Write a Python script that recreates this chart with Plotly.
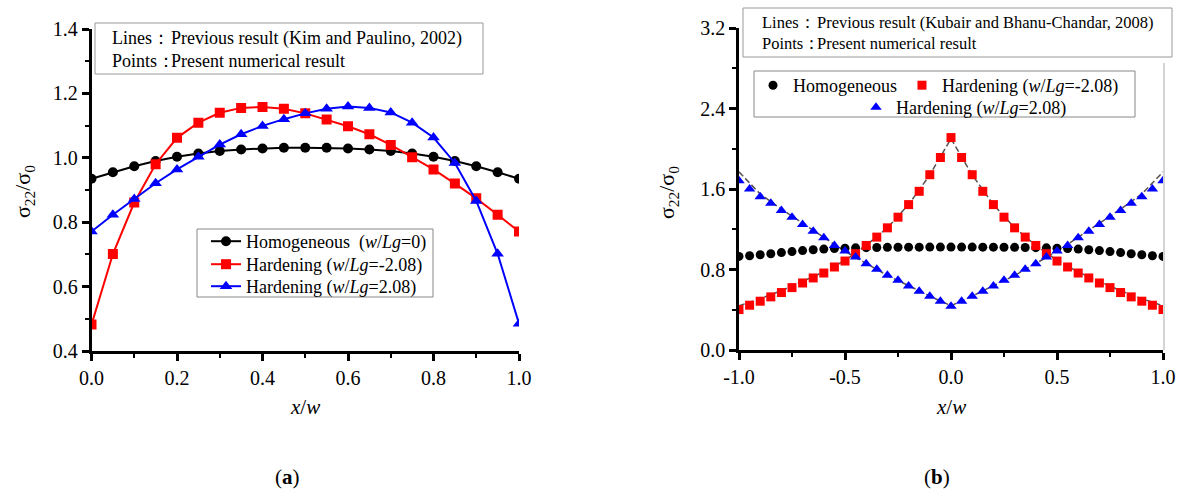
import plotly.graph_objects as go

W, H = 1183, 491
FONT = "Liberation Serif, Times New Roman, serif"

# ---- panel (a): stress ratio across the crack plane, x/w in [0, 1] ----
x_a = [0.00, 0.05, 0.10, 0.15, 0.20, 0.25, 0.30, 0.35, 0.40, 0.45, 0.50,
       0.55, 0.60, 0.65, 0.70, 0.75, 0.80, 0.85, 0.90, 0.95, 1.00]
homog_a = [0.935, 0.955, 0.974, 0.990, 1.003, 1.013, 1.021, 1.026, 1.029, 1.031, 1.031,
           1.031, 1.029, 1.026, 1.021, 1.013, 1.003, 0.990, 0.974, 0.955, 0.935]
hard_neg_a = [0.482, 0.701, 0.861, 0.980, 1.062, 1.109, 1.140, 1.155, 1.158, 1.152, 1.138,
              1.119, 1.098, 1.073, 1.040, 1.002, 0.964, 0.920, 0.874, 0.823, 0.771]
hard_pos_a = [0.771, 0.823, 0.872, 0.921, 0.964, 1.003, 1.041, 1.073, 1.099, 1.120, 1.138,
              1.152, 1.159, 1.155, 1.141, 1.109, 1.063, 0.984, 0.866, 0.702, 0.485]

# ---- panel (b): x/w in [-1, 1] ----
x_b = [-1.00, -0.95, -0.90, -0.85, -0.80, -0.75, -0.70, -0.65, -0.60, -0.55, -0.50,
       -0.45, -0.40, -0.35, -0.30, -0.25, -0.20, -0.15, -0.10, -0.05, 0.00,
       0.05, 0.10, 0.15, 0.20, 0.25, 0.30, 0.35, 0.40, 0.45, 0.50,
       0.55, 0.60, 0.65, 0.70, 0.75, 0.80, 0.85, 0.90, 0.95, 1.00]
homog_b = [0.930, 0.937, 0.947, 0.957, 0.968, 0.978, 0.988, 0.996, 1.003, 1.008, 1.012,
           1.015, 1.017, 1.019, 1.020, 1.021, 1.022, 1.022, 1.023, 1.023, 1.023,
           1.023, 1.023, 1.022, 1.022, 1.021, 1.020, 1.019, 1.017, 1.015, 1.012,
           1.008, 1.003, 0.996, 0.988, 0.978, 0.968, 0.957, 0.947, 0.937, 0.930]
hard_neg_b = [0.402, 0.445, 0.485, 0.528, 0.571, 0.620, 0.666, 0.716, 0.765, 0.825, 0.884,
              0.957, 1.039, 1.122, 1.214, 1.320, 1.445, 1.577, 1.742, 1.913, 2.111,
              1.913, 1.742, 1.577, 1.445, 1.320, 1.214, 1.122, 1.039, 0.957, 0.884,
              0.825, 0.765, 0.716, 0.666, 0.620, 0.571, 0.528, 0.485, 0.445, 0.402]
hard_pos_b = [1.682, 1.600, 1.524, 1.458, 1.386, 1.320, 1.247, 1.181, 1.115, 1.039, 0.983,
              0.924, 0.858, 0.802, 0.742, 0.693, 0.637, 0.584, 0.534, 0.485, 0.435,
              0.485, 0.534, 0.584, 0.637, 0.693, 0.742, 0.802, 0.858, 0.924, 0.983,
              1.039, 1.115, 1.181, 1.247, 1.320, 1.386, 1.458, 1.524, 1.600, 1.682]

# previous (Kubair and Bhanu-Chandar) curves
x_ref_b = [-1.0, -0.9, -0.8, -0.7, -0.6, -0.5, -0.4, -0.3, -0.2, -0.1, 0.0,
           0.1, 0.2, 0.3, 0.4, 0.5, 0.6, 0.7, 0.8, 0.9, 1.0]
ref_neg_b = [0.44, 0.51, 0.59, 0.68, 0.775, 0.89, 1.04, 1.215, 1.445, 1.74, 2.10,
             1.74, 1.445, 1.215, 1.04, 0.89, 0.775, 0.68, 0.59, 0.51, 0.44]
ref_pos_b = [1.77, 1.55, 1.40, 1.26, 1.12, 0.98, 0.86, 0.74, 0.64, 0.535, 0.44,
             0.535, 0.64, 0.74, 0.86, 0.98, 1.12, 1.26, 1.40, 1.55, 1.77]

xticks_b = [-1.0, -0.5, 0.0, 0.5, 1.0]
xticktext_b = ["-1.0", "-0.5", "0.0", "0.5", "1.0"]

names_a = ["Homogeneous\u00a0\u00a0(<i>w</i>/<i>Lg</i>=0)",
           "Hardening (<i>w</i>/<i>Lg</i>=-2.08)",
           "Hardening (<i>w</i>/<i>Lg</i>=2.08)"]
names_b = ["Homogeneous",
           "Hardening (<i>w</i>/<i>Lg</i>=-2.08)",
           "Hardening (<i>w</i>/<i>Lg</i>=2.08)"]


def px(x):
    return x / W


def py(y):
    return 1 - y / H


fig = go.Figure()

# panel (a) traces, one legend row each
for ys, col, sym, nm, lg in [(homog_a, "black", "circle", names_a[0], "legend"),
                             (hard_neg_a, "#ff0000", "square", names_a[1], "legend4"),
                             (hard_pos_a, "#0000ff", "triangle-up", names_a[2], "legend5")]:
    fig.add_trace(go.Scatter(
        x=x_a, y=ys, mode="lines+markers", name=nm,
        line=dict(color=col, width=2),
        marker=dict(color=col, symbol=sym, size=10 if sym != "triangle-up" else 11),
        xaxis="x", yaxis="y", legend=lg))

# panel (b) reference curves
for ys in (ref_neg_b, ref_pos_b):
    fig.add_trace(go.Scatter(
        x=x_ref_b, y=ys, mode="lines", showlegend=False,
        line=dict(color="#5a5050", width=1.5, dash="6px,3px"),
        xaxis="x2", yaxis="y2"))

# panel (b) points
for ys, col, sym, nm, lg, sz in [(homog_b, "black", "circle", names_b[0], "legend2", 9),
                                 (hard_neg_b, "#ff0000", "square", names_b[1], "legend2", 9),
                                 (hard_pos_b, "#0000ff", "triangle-up", names_b[2], "legend3", 10)]:
    fig.add_trace(go.Scatter(
        x=x_b, y=ys, mode="markers", name=nm,
        marker=dict(color=col, symbol=sym, size=sz),
        xaxis="x2", yaxis="y2", legend=lg))

axis_common = dict(
    showline=True, linecolor="black", linewidth=2.5, mirror=False, automargin=False,
    showgrid=False, zeroline=False, ticks="outside", ticklen=7, tickwidth=2.5,
    tickcolor="black", tickfont=dict(family=FONT, size=20, color="black"),
)
minor_common = dict(ticks="outside", ticklen=4, tickwidth=2, tickcolor="black")


def legend_row(x, top, horizontal=False):
    d = dict(x=px(x), y=py(top), xanchor="left", yanchor="top",
             bgcolor="rgba(0,0,0,0)", borderwidth=0,
             font=dict(family=FONT, size=18, color="black"))
    if horizontal:
        d["orientation"] = "h"
    return d


fig.update_layout(
    width=W, height=H,
    margin=dict(l=0, r=0, t=0, b=0, pad=0, autoexpand=False),
    paper_bgcolor="white", plot_bgcolor="white",
    font=dict(family=FONT, color="black"),
    xaxis=dict(domain=[px(91.5), px(519)], range=[0, 1], dtick=0.2, tickformat=".1f",
               anchor="y", minor=dict(dtick=0.1, **minor_common), **axis_common),
    yaxis=dict(domain=[py(351), py(29)], range=[0.4, 1.4], dtick=0.2, tickformat=".1f",
               anchor="x", minor=dict(dtick=0.1, **minor_common), **axis_common),
    xaxis2=dict(domain=[px(739), px(1163)], range=[-1, 1], tickmode="array",
                tickvals=xticks_b, ticktext=xticktext_b, anchor="y2",
                minor=dict(tickmode="linear", tick0=-1, dtick=0.25, **minor_common),
                **axis_common),
    yaxis2=dict(domain=[py(350), py(28)], range=[0, 3.2], dtick=0.8, tickformat=".1f",
                anchor="x2", minor=dict(dtick=0.4, **minor_common), **axis_common),
    legend=legend_row(206, 223),
    legend4=legend_row(206, 246),
    legend5=legend_row(206, 268),
    legend2=legend_row(753, 67, horizontal=True),
    legend3=legend_row(856, 89, horizontal=True),
)

shapes = [
    # note boxes
    dict(type="rect", xref="paper", yref="paper", x0=px(95), x1=px(483), y0=py(74), y1=py(23),
         line=dict(color="#999", width=1), fillcolor="white", layer="below"),
    dict(type="rect", xref="paper", yref="paper", x0=px(743), x1=px(1172), y0=py(57), y1=py(8),
         line=dict(color="#999", width=1), fillcolor="rgba(0,0,0,0)"),
    # legend frames
    dict(type="rect", xref="paper", yref="paper", x0=px(197), x1=px(433), y0=py(297), y1=py(229),
         line=dict(color="#888", width=1), fillcolor="white", layer="above"),
    dict(type="rect", xref="paper", yref="paper", x0=px(754), x1=px(1135), y0=py(117), y1=py(71),
         line=dict(color="#888", width=1), fillcolor="rgba(0,0,0,0)"),
    # faint right frame of panel (b)
    dict(type="line", xref="paper", yref="paper", x0=px(1164), x1=px(1164), y0=py(350), y1=py(63),
         line=dict(color="#aaa", width=1)),
]

ann = []


def note(x, y, text, size=18):
    ann.append(dict(xref="paper", yref="paper", x=px(x), y=py(y), text=text,
                    xanchor="left", yanchor="middle", showarrow=False,
                    font=dict(family=FONT, size=size, color="black")))


note(110, 38, "Lines：")
note(169, 38, "Previous result (Kim and Paulino, 2002)")
note(110, 61, "Points：")
note(169, 61, "Present numerical result")

note(760, 23, "Lines：", 16.5)
note(815, 23, "Previous result (Kubair and Bhanu-Chandar, 2008)", 16.5)
note(760, 44, "Points：", 16.5)
note(815, 44, "Present numerical result", 16.5)

# axis titles
for x, y in [(305, 407), (951, 407)]:
    ann.append(dict(xref="paper", yref="paper", x=px(x), y=py(y), text="<i>x</i>/<i>w</i>",
                    showarrow=False, xanchor="center", yanchor="middle",
                    font=dict(family=FONT, size=21, color="black")))
for x, y in [(24, 192), (668, 192)]:
    ann.append(dict(xref="paper", yref="paper", x=px(x), y=py(y),
                    text="σ<sub>22</sub>/σ<sub>0</sub>", textangle=-90,
                    showarrow=False, xanchor="center", yanchor="middle",
                    font=dict(family=FONT, size=22, color="black")))

# panel captions
for x, t in [(287, "(<b>a</b>)"), (937, "(<b>b</b>)")]:
    ann.append(dict(xref="paper", yref="paper", x=px(x), y=py(477), text=t,
                    showarrow=False, xanchor="center", yanchor="middle",
                    font=dict(family=FONT, size=21, color="black")))

fig.update_layout(shapes=shapes, annotations=ann)
fig.write_html("out.html")
